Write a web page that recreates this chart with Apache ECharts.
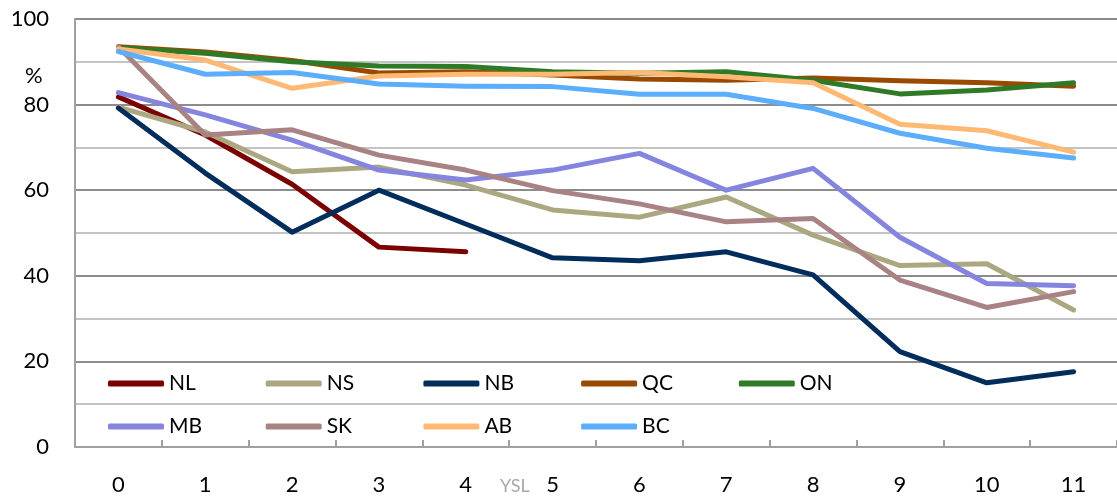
<!DOCTYPE html>
<html>
<head>
<meta charset="utf-8">
<script src="https://cdn.jsdelivr.net/npm/echarts@6/dist/echarts.min.js"></script>
<style>html,body{margin:0;padding:0;background:#fff;}#c{width:1117px;height:500px;}</style>
</head>
<body>
<div id="c"></div>
<script>
const categories = ['0','1','2','3','4','5','6','7','8','9','10','11'];
const seriesNames = ['NL','NS','NB','QC','ON','MB','SK','AB','BC'];
const NL = [81.8, 72.9, 61.4, 46.7, 45.6, null, null, null, null, null, null, null];
const NS = [79.4, 73.6, 64.3, 65.4, 61.2, 55.4, 53.7, 58.4, 49.5, 42.4, 42.8, 32.0];
const NB = [79.2, 64.0, 50.2, 60.0, 52.1, 44.2, 43.5, 45.6, 40.2, 22.3, 15.0, 17.6];
const QC = [93.5, 92.3, 90.3, 87.4, 87.7, 86.9, 86.0, 85.7, 86.2, 85.6, 85.1, 84.3];
const ON = [93.3, 92.0, 90.0, 89.0, 88.9, 87.7, 87.3, 87.7, 85.7, 82.5, 83.4, 85.1];
const MB = [82.8, 77.6, 71.7, 64.7, 62.4, 64.7, 68.6, 60.0, 65.1, 49.0, 38.2, 37.7];
const SK = [93.5, 72.9, 74.1, 68.2, 64.7, 59.9, 56.8, 52.6, 53.4, 39.0, 32.6, 36.3];
const AB = [93.0, 90.4, 83.8, 86.7, 87.1, 87.1, 87.5, 86.5, 85.1, 75.4, 73.9, 68.9];
const BC = [92.4, 87.1, 87.5, 84.8, 84.3, 84.2, 82.4, 82.4, 79.1, 73.3, 69.8, 67.5];
const seriesData = [NL, NS, NB, QC, ON, MB, SK, AB, BC];
const colors = ['#7b0000','#aba881','#002d5c','#994a00','#2f7a27','#8585df','#a98383','#ffb974','#5cadfb'];
const yTickLabels = [0, 20, 40, 60, 80, 100];

const FONT = 'Lato';
const chart = echarts.init(document.getElementById('c'), null, {renderer: 'canvas'});

const legends = seriesNames.map((n, i) => ({
  data: [n],
  left: 108 + (i < 5 ? i : i - 5) * 157.7,
  top: i < 5 ? 373 : 416,
  padding: 0,
  icon: 'roundRect',
  itemWidth: 56,
  itemHeight: 6,
  itemGap: 4,
  textStyle: {fontFamily: FONT, fontSize: 21, color: '#000'},
  selectedMode: false
}));

chart.setOption({
  animation: false,
  color: colors,
  grid: {left: 75, top: 19, width: 1048, height: 428},
  legend: legends,
  xAxis: {
    type: 'category',
    data: categories,
    boundaryGap: true,
    axisLine: {lineStyle: {color: '#a0a0a0', width: 2}},
    axisTick: {show: true, inside: true, length: 7, lineStyle: {color: '#a0a0a0', width: 2}},
    axisLabel: {fontFamily: FONT, fontSize: 22, color: '#000', margin: 27},
    splitLine: {show: false}
  },
  yAxis: {
    type: 'value',
    min: 0, max: 100, interval: 10,
    axisLine: {show: true, lineStyle: {color: '#a0a0a0', width: 2}},
    axisTick: {show: false},
    axisLabel: {
      fontFamily: FONT, fontSize: 22, color: '#000', margin: 26,
      formatter: v => yTickLabels.indexOf(v) >= 0 ? String(v) : ''
    },
    splitLine: {show: true, lineStyle: {color: ['#8c8c8c', '#c4c4c4'], width: 2}}
  },
  graphic: [
    {type: 'text', left: 25, top: 65, style: {text: '%', fontFamily: FONT, fontSize: 22, fill: '#000'}},
    {type: 'text', left: 500, top: 477, style: {text: 'YSL', fontFamily: FONT, fontSize: 18, fill: '#a8a8a8'}}
  ],
  series: seriesNames.map((n, i) => ({
    name: n,
    type: 'line',
    data: seriesData[i],
    showSymbol: false,
    symbol: 'none',
    connectNulls: false,
    lineStyle: {width: 5, color: colors[i], cap: 'round', join: 'round'},
    itemStyle: {color: colors[i]},
    emphasis: {disabled: true}
  }))
});
</script>
</body>
</html>
